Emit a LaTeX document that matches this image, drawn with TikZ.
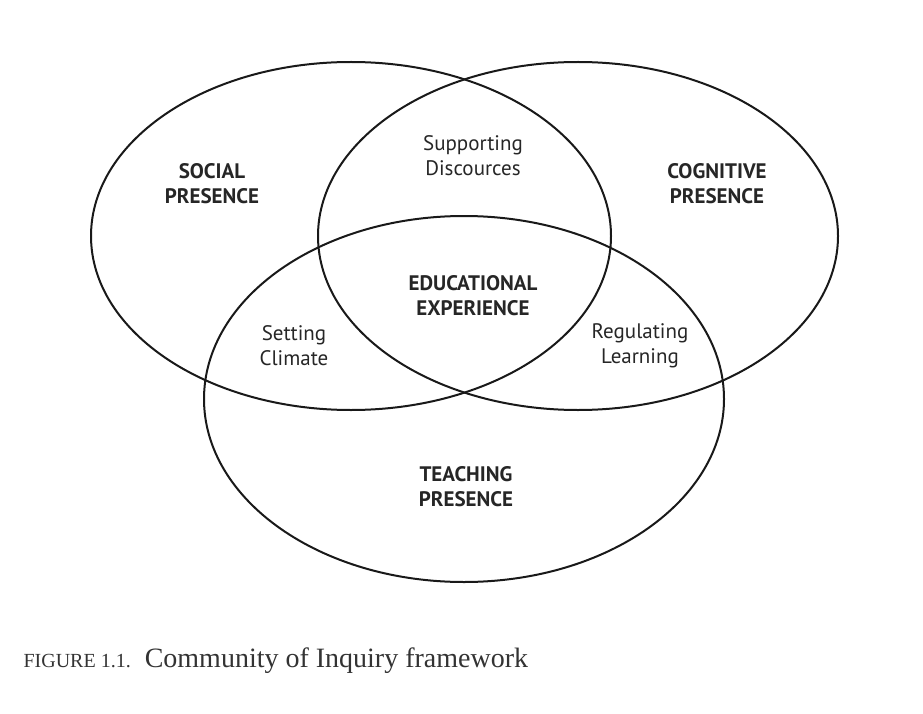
\documentclass[tikz,border=0pt]{standalone}
\usepackage{fontspec}
\setmainfont{Liberation Serif}
\newfontfamily\lab{PT Sans}
\begin{document}
\begin{tikzpicture}[x=1pt,y=-1pt,
  circ/.style={draw=black!90,line width=2pt},
  bold/.style={font=\lab\bfseries\fontsize{21}{25}\selectfont,align=center,text=black!85},
  reg/.style={font=\lab\fontsize{21}{25}\selectfont,align=center,text=black!85}]
\useasboundingbox (0,0) rectangle (923,714);
\draw[circ] (351,236) ellipse [x radius=260, y radius=174];
\draw[circ] (578,236) ellipse [x radius=260, y radius=174];
\draw[circ] (464,399) ellipse [x radius=260, y radius=183];
\node[bold] (soc) at (212,184) {SOCIAL\\PRESENCE};
\node[bold] (cog) at (717,184) {COGNITIVE\\PRESENCE};
\node[bold] (tea) at (466,487) {TEACHING\\PRESENCE};
\node[bold] (edu) at (473,296) {EDUCATIONAL\\EXPERIENCE};
\node[reg] (sup) at (473,156) {Supporting\\Discources};
\node[reg] (set) at (294,346) {Setting\\Climate};
\node[reg] (reg) at (640,346) {Regulating\\Learning};
\node[anchor=west,font=\fontsize{28}{34}\selectfont,text=black!80] (cap) at (20,661)
  {{\fontsize{20}{24}\selectfont FIGURE 1.1.}\ \ Community of Inquiry framework};
\end{tikzpicture}
\end{document}
